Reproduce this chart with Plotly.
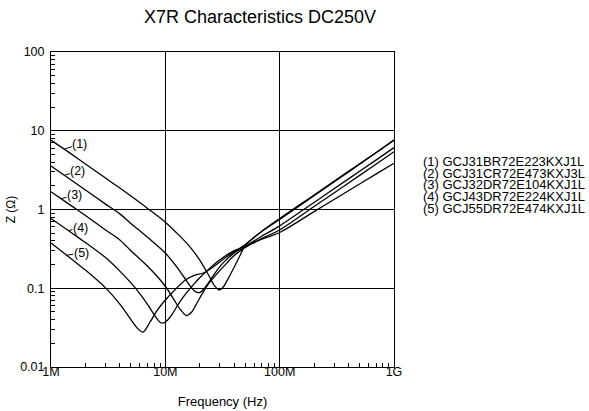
import math
import plotly.graph_objects as go

# Frequencies in MHz, impedance in ohm
f1 = [1, 1.5, 2, 3, 4, 5, 7, 10, 13, 16, 20, 24, 27, 29.6, 32, 35, 40, 45, 50, 70, 100, 200, 400, 700, 1000]
z1 = [7.6, 5.08, 3.79, 2.51, 1.87, 1.48, 1.03, 0.69, 0.48, 0.35, 0.228, 0.145, 0.107, 0.095, 0.103, 0.128, 0.185, 0.26, 0.35, 0.53, 0.77, 1.53, 3.05, 5.3, 7.6]

f2 = [1, 1.5, 2, 3, 4, 5, 7, 10, 13, 15, 16.5, 18, 19.4, 20.5, 22, 25, 28, 32, 40, 50, 70, 100, 200, 400, 700, 1000]
z2 = [3.56, 2.37, 1.77, 1.17, 0.88, 0.665, 0.443, 0.28, 0.175, 0.13, 0.107, 0.092, 0.088, 0.09, 0.10, 0.13, 0.165, 0.21, 0.28, 0.34, 0.46, 0.62, 1.23, 2.45, 4.27, 6.1]

f3 = [1, 1.5, 2, 3, 4, 5, 7, 10, 12, 13.5, 15.3, 17, 19, 21, 24, 28, 33, 40, 50, 70, 100, 200, 400, 700, 1000]
z3 = [1.68, 1.12, 0.84, 0.55, 0.41, 0.30, 0.19, 0.106, 0.07, 0.054, 0.045, 0.05, 0.066, 0.085, 0.115, 0.15, 0.195, 0.26, 0.33, 0.43, 0.55, 1.09, 2.17, 3.78, 5.4]

f4 = [1, 1.5, 2, 3, 4, 5, 6, 7, 8, 9, 9.53, 10.2, 11.5, 13, 15, 17, 20, 24, 30, 40, 50, 70, 100, 200, 400, 700, 1000]
z4 = [0.77, 0.51, 0.38, 0.245, 0.165, 0.117, 0.085, 0.062, 0.046, 0.037, 0.036, 0.038, 0.047, 0.063, 0.084, 0.105, 0.136, 0.175, 0.23, 0.30, 0.34, 0.42, 0.51, 0.94, 1.73, 2.83, 3.87]

f5 = [1, 1.5, 2, 3, 4, 5, 5.7, 6.37, 7.33, 8.3, 9.5, 12.1, 15.1, 18.2, 21.3, 25.5, 33.2, 50, 70, 100, 200, 400, 700, 1000]
z5 = [0.376, 0.237, 0.17, 0.101, 0.063, 0.04, 0.031, 0.0278, 0.037, 0.05, 0.065, 0.095, 0.128, 0.147, 0.155, 0.181, 0.242, 0.36, 0.53, 0.75, 1.5, 3.0, 5.3, 7.6]

series_f = [f1, f2, f3, f4, f5]
series_z = [z1, z2, z3, z4, z5]
labels = ["(1)", "(2)", "(3)", "(4)", "(5)"]
part_numbers = ["GCJ31BR72E223KXJ1L", "GCJ31CR72E473KXJ3L", "GCJ32DR72E104KXJ1L",
                "GCJ43DR72E224KXJ1L", "GCJ55DR72E474KXJ1L"]
# label anchor points on each curve (MHz, ohm) and text offsets
label_f = [1.31, 1.31, 1.22, 1.42, 1.37]
label_z = [5.86, 2.72, 1.37, 0.54, 0.262]
label_dx = [15.5, 13.5, 13.5, 12, 14.5]
label_dy = [-5, -4, -3.5, -3, -2.5]

x_tickvals = [1e6, 1e7, 1e8, 1e9]
x_ticktext = ["1M", "10M", "100M", "1G"]
y_tickvals = [0.01, 0.1, 1, 10, 100]
y_ticktext = ["0.01", "0.1", "1", "10", "100"]

FONT = "Liberation Sans, Arial, sans-serif"
W, H = 589, 411
ML, MR, MT, MB = 51, 195, 52, 44
PW, PH = W - ML - MR, H - MT - MB

fig = go.Figure()
for fx, zy, lab in zip(series_f, series_z, labels):
    fig.add_trace(go.Scatter(x=[v * 1e6 for v in fx], y=zy, mode="lines", name=lab,
                             line=dict(color="black", width=1.3, shape="spline", smoothing=0.9),
                             showlegend=False, hoverinfo="skip"))

for lab, lf, lz, dx, dy in zip(labels, label_f, label_z, label_dx, label_dy):
    fig.add_annotation(x=math.log10(lf * 1e6), y=math.log10(lz), xref="x", yref="y",
                       text=lab, showarrow=True, arrowhead=0, arrowwidth=1, arrowcolor="black",
                       ax=dx, ay=dy, standoff=0, borderpad=0,
                       font=dict(family=FONT, size=12.5, color="black"))

for i, (lab, pn) in enumerate(zip(labels, part_numbers)):
    ypx = 161.5 + i * 11.7
    fig.add_annotation(x=(421 - ML) / PW, y=1 - (ypx - MT) / PH, xref="paper", yref="paper",
                       text=f"{lab} {pn}", showarrow=False, xanchor="left", yanchor="middle",
                       font=dict(family=FONT, size=13, color="black"))

minor_x = [m * 10 ** e for e in range(6, 9) for m in range(2, 10)]
minor_y = [m * 10 ** e for e in range(-2, 2) for m in range(2, 10)]

fig.update_layout(
    width=W, height=H,
    margin=dict(l=ML, r=MR, t=MT, b=MB, autoexpand=False),
    paper_bgcolor="white", plot_bgcolor="white",
    font=dict(family=FONT, size=12, color="black"),
    title=dict(text="X7R Characteristics DC250V", x=260 / W, xanchor="center",
               y=1 - 17 / H, yanchor="middle", font=dict(family=FONT, size=18, color="black")),
    xaxis=dict(type="log", range=[6, 9], tickvals=x_tickvals, ticktext=x_ticktext,
               showgrid=True, gridcolor="black", gridwidth=1,
               showline=True, linecolor="black", linewidth=1, mirror=True,
               ticks="inside", ticklen=5, tickcolor="black", automargin=False,
               ticklabelstandoff=-7,
               minor=dict(tickvals=minor_x, ticks="inside", ticklen=4, tickcolor="black", showgrid=False),
               title=dict(text="Frequency (Hz)", standoff=18, font=dict(size=13)),
               tickfont=dict(size=12.5), zeroline=False),
    yaxis=dict(type="log", range=[-2, 2], tickvals=y_tickvals, ticktext=y_ticktext,
               showgrid=True, gridcolor="black", gridwidth=1,
               showline=True, linecolor="black", linewidth=1, mirror=True,
               ticks="inside", ticklen=5, tickcolor="black", automargin=False,
               ticklabelstandoff=3,
               minor=dict(tickvals=minor_y, ticks="inside", ticklen=4, tickcolor="black", showgrid=False),
               title=dict(text="Z (Ω)", standoff=1, font=dict(size=12)),
               tickfont=dict(size=12.5), zeroline=False),
)

fig.write_html("out.html", config={"displayModeBar": False},
               post_script="document.body.style.margin='0';document.body.style.overflow='hidden';")
